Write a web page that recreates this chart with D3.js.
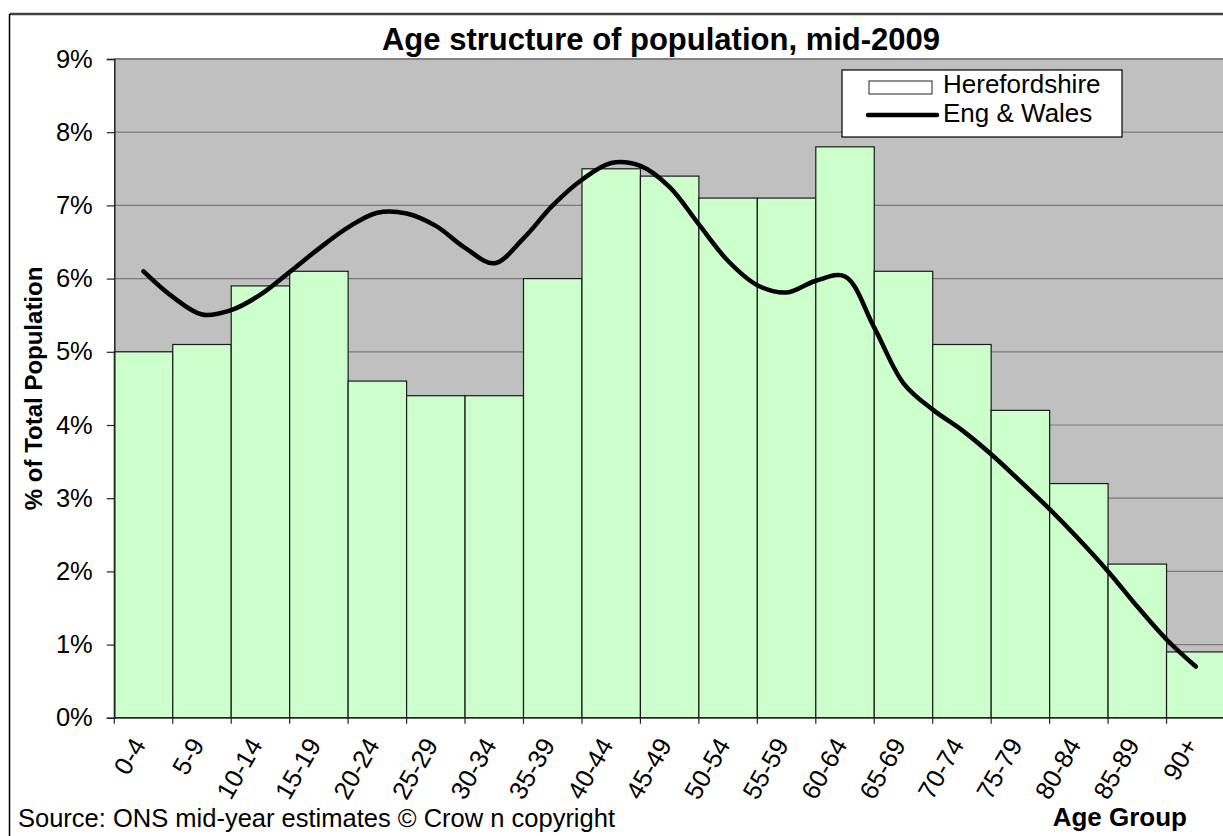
<!DOCTYPE html>
<html>
<head>
<meta charset="utf-8">
<script src="https://cdn.jsdelivr.net/npm/d3@7"></script>
<style>
  body { margin: 0; background: #fff; }
  svg { display: block; font-family: "Liberation Sans", Arial, sans-serif; }
</style>
</head>
<body>
<svg id="chart"></svg>
<script>
// Age groups on the x axis
var ageGroups = ["0-4", "5-9", "10-14", "15-19", "20-24", "25-29", "30-34", "35-39", "40-44",
  "45-49", "50-54", "55-59", "60-64", "65-69", "70-74", "75-79", "80-84", "85-89", "90+"];

// Herefordshire share of population (%) per age group
var herefordValues = [5.0, 5.1, 5.9, 6.1, 4.6, 4.4, 4.4, 6.0, 7.5, 7.4, 7.1, 7.1, 7.8, 6.1, 5.1, 4.2, 3.2, 2.1, 0.9];

var ewValues = [6.1, 5.75, 5.51, 5.57, 5.78, 6.09, 6.41, 6.70, 6.90, 6.89, 6.72, 6.42, 6.21,
  6.55, 7.0, 7.35, 7.58, 7.54, 7.25, 6.74, 6.24, 5.91, 5.81, 5.97, 6.03, 5.33, 4.57, 4.21,
  3.93, 3.60, 3.23, 2.85, 2.44, 2.0, 1.52, 1.07, 0.70];

var yTicks = [0, 1, 2, 3, 4, 5, 6, 7, 8, 9];

var svgWidth = 1223;
var svgHeight = 836;

var plot = { left: 114.3, right: 1225, top: 59, bottom: 717.8 };

var svg = d3.select("#chart")
  .attr("width", svgWidth)
  .attr("height", svgHeight);

// scales
var xScale = d3.scaleBand()
  .domain(ageGroups)
  .range([plot.left, plot.right])
  .padding(0);

var yScale = d3.scaleLinear()
  .domain([0, 9])
  .range([plot.bottom, plot.top]);

var bw = xScale.bandwidth();
var halfScale = d3.scaleLinear()
  .domain([0, ageGroups.length - 1])
  .range([xScale(ageGroups[0]) + bw / 2, xScale(ageGroups[ageGroups.length - 1]) + bw / 2]);

// outer chart frame (only top and left edges are in view)
svg.append("line")
  .attr("x1", 9.5).attr("x2", svgWidth)
  .attr("y1", 14).attr("y2", 14)
  .attr("stroke", "#404040").attr("stroke-width", 2.5);
svg.append("line")
  .attr("x1", 9.5).attr("x2", 9.5)
  .attr("y1", 14).attr("y2", svgHeight)
  .attr("stroke", "#000").attr("stroke-width", 1.5);

// title
svg.append("text")
  .attr("x", 661)
  .attr("y", 50)
  .attr("text-anchor", "middle")
  .attr("font-size", "31px")
  .attr("font-weight", "bold")
  .text("Age structure of population, mid-2009");

// plot background
svg.append("rect")
  .attr("x", plot.left).attr("y", plot.top)
  .attr("width", plot.right - plot.left)
  .attr("height", plot.bottom - plot.top)
  .attr("fill", "#c0c0c0");

// gridlines
svg.append("g").selectAll("line")
  .data(yTicks.filter(d => d > 0))
  .enter()
  .append("line")
  .attr("x1", plot.left).attr("x2", plot.right)
  .attr("y1", d => yScale(d)).attr("y2", d => yScale(d))
  .attr("stroke", d => d === 9 ? "#808080" : "#7a7a7a")
  .attr("stroke-width", d => d === 9 ? 2 : 1.2);

// bars
svg.append("g").selectAll("rect")
  .data(herefordValues)
  .enter()
  .append("rect")
  .attr("x", (d, i) => xScale(ageGroups[i]))
  .attr("y", d => yScale(d))
  .attr("width", bw)
  .attr("height", d => yScale(0) - yScale(d))
  .attr("fill", "#ccffcc")
  .attr("stroke", "#1a1a1a")
  .attr("stroke-width", 1.2);

// Eng & Wales line
var ewLine = d3.line()
  .x((d, i) => halfScale(i / 2))
  .y(d => yScale(d))
  .curve(d3.curveCatmullRom.alpha(0.5));

svg.append("path")
  .datum(ewValues)
  .attr("d", ewLine)
  .attr("fill", "none")
  .attr("stroke", "#000")
  .attr("stroke-width", 4.5)
  .attr("stroke-linejoin", "round")
  .attr("stroke-linecap", "round");

// y axis
var leftAxis = d3.axisLeft(yScale)
  .tickValues(yTicks)
  .tickFormat(d => d + "%")
  .tickSize(7.5)
  .tickPadding(14);

var yAxis = svg.append("g")
  .attr("transform", `translate(${plot.left}, 0)`)
  .call(leftAxis);
yAxis.select(".domain").attr("stroke", "#222").attr("stroke-width", 1.5);
yAxis.selectAll(".tick line").attr("stroke", "#222").attr("stroke-width", 1.2);
yAxis.selectAll("text")
  .attr("font-size", "25.5px")
  .attr("font-family", "Liberation Sans, Arial, sans-serif")
  .attr("fill", "#000");

// x axis, ticks on group boundaries
svg.append("line")
  .attr("x1", plot.left).attr("x2", plot.right)
  .attr("y1", plot.bottom).attr("y2", plot.bottom)
  .attr("stroke", "#222").attr("stroke-width", 1.5);

var edges = ageGroups.map(d => xScale(d)).concat([plot.right]);
svg.append("g").selectAll("line")
  .data(edges)
  .enter()
  .append("line")
  .attr("x1", d => d).attr("x2", d => d)
  .attr("y1", plot.bottom).attr("y2", plot.bottom + 6)
  .attr("stroke", "#222").attr("stroke-width", 1.2);

svg.append("g").selectAll("text")
  .data(ageGroups)
  .enter()
  .append("text")
  .attr("transform", d => `translate(${xScale(d) + bw / 2 + 3}, ${plot.bottom + 27}) rotate(-60)`)
  .attr("text-anchor", "end")
  .attr("font-size", "25.5px")
  .text(d => d);

// axis titles
svg.append("text")
  .attr("transform", `translate(42, ${(plot.top + plot.bottom) / 2}) rotate(-90)`)
  .attr("text-anchor", "middle")
  .attr("font-size", "24px")
  .attr("font-weight", "bold")
  .text("% of Total Population");

svg.append("text")
  .attr("x", 1187)
  .attr("y", 826)
  .attr("text-anchor", "end")
  .attr("font-size", "26px")
  .attr("font-weight", "bold")
  .text("Age Group");

// source note
svg.append("text")
  .attr("x", 18)
  .attr("y", 827)
  .attr("font-size", "25.5px")
  .text("Source: ONS mid-year estimates \u00A9 Crow n copyright");

// legend
var legend = svg.append("g");
legend.append("rect")
  .attr("x", 842).attr("y", 70)
  .attr("width", 280).attr("height", 67)
  .attr("fill", "#fff")
  .attr("stroke", "#000").attr("stroke-width", 1.2);
legend.append("rect")
  .attr("x", 869).attr("y", 81)
  .attr("width", 63).attr("height", 13)
  .attr("fill", "#fff")
  .attr("stroke", "#222").attr("stroke-width", 1);
legend.append("text")
  .attr("x", 943).attr("y", 93)
  .attr("font-size", "26px")
  .text("Herefordshire");
legend.append("line")
  .attr("x1", 868).attr("x2", 937)
  .attr("y1", 115).attr("y2", 115)
  .attr("stroke", "#000").attr("stroke-width", 4.5)
  .attr("stroke-linecap", "round");
legend.append("text")
  .attr("x", 943).attr("y", 122)
  .attr("font-size", "26px")
  .text("Eng & Wales");
</script>
</body>
</html>
